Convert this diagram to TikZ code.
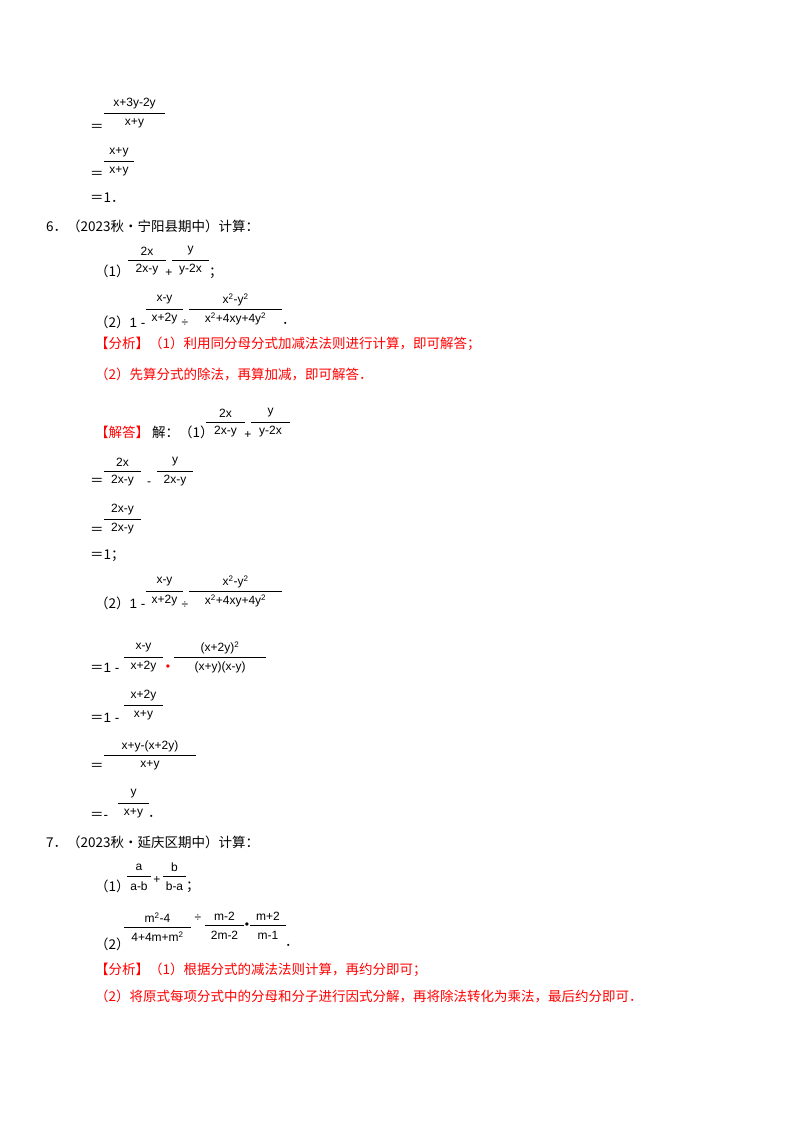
\documentclass[tikz,border=0pt]{standalone}
\usepackage{fontspec}
\setmainfont{Liberation Serif}
\newfontfamily\cjk{Noto Sans CJK SC}
\newfontfamily\fmf{Liberation Sans}
\newcommand\fr[5]{\draw[fl] (#1,#3)--(#2,#3);
 \node[fm] at ({(#1+#2)/2},#3-9) {#4};
 \node[fm] at ({(#1+#2)/2},#3+10) {#5};}
\tikzset{fm/.style={font=\fmf\fontsize{12}{12}\selectfont,inner sep=0pt},
 fl/.style={line width=0.8pt},
 tx/.style={font=\cjk\fontsize{13.5}{14}\selectfont,anchor=west,inner sep=0pt},
 rd/.style={tx,text=red}}
\begin{document}
\begin{tikzpicture}[x=1pt,y=-1pt]
\useasboundingbox[fill=white] (0,0) rectangle (800,1132);
% top
\node[tx] at (90,128) {＝};
\fr{104}{165}{113}{x+3y-2y}{x+y}
\node[tx] at (90,175) {＝};
\fr{104}{134}{161}{x+y}{x+y}
\node[tx] at (90,198) {＝1．};
% 6
\node[tx] at (46,226) {6．（2023秋•宁阳县期中）计算：};
\node[tx] at (95,271) {（1）};
\fr{128}{166}{260}{2x}{2x-y}
\node[fm] at (169,273) {+};
\fr{172}{209}{260}{y}{y-2x}
\node[tx] at (209,273) {；};
\node[tx] at (95,322) {（2）\fmf 1 -};
\fr{146}{183}{309}{x-y}{x+2y}
\node[fm] at (185,323) {÷};
\fr{189}{282}{309}{x\textsuperscript{2}-y\textsuperscript{2}}{x\textsuperscript{2}+4xy+4y\textsuperscript{2}}
\node[tx] at (282,323) {．};
\node[rd] at (95,344) {【分析】（1）利用同分母分式加减法法则进行计算，即可解答；};
\node[rd] at (95,374) {（2）先算分式的除法，再算加减，即可解答．};
\node[rd] at (95,432) {【解答】};
\node[tx] at (152,432) {解：（1）};
\fr{206}{245}{422}{2x}{2x-y}
\node[fm] at (248,435) {+};
\fr{251}{290}{422}{y}{y-2x}
\node[tx] at (90,482) {＝};
\fr{104}{141}{471}{2x}{2x-y}
\node[fm] at (149,484) {-};
\fr{157}{193}{471}{y}{2x-y}
\node[tx] at (90,531) {＝};
\fr{104}{141}{519}{2x-y}{2x-y}
\node[tx] at (90,556) {＝1；};
\node[tx] at (95,603) {（2）\fmf 1 -};
\fr{146}{183}{591}{x-y}{x+2y}
\node[fm] at (185,605) {÷};
\fr{189}{282}{591}{x\textsuperscript{2}-y\textsuperscript{2}}{x\textsuperscript{2}+4xy+4y\textsuperscript{2}}
\node[tx] at (90,668) {＝\fmf 1 -};
\fr{124}{163}{657}{x-y}{x+2y}
\node[fm,text=red] at (168,668) {•};
\fr{174}{266}{657}{(x+2y)\textsuperscript{2}}{(x+y)(x-y)}
\node[tx] at (90,718) {＝\fmf 1 -};
\fr{124}{163}{705}{x+2y}{x+y}
\node[tx] at (90,767) {＝};
\fr{104}{196}{755}{x+y-(x+2y)}{x+y}
\node[tx] at (90,816) {＝\fmf -};
\fr{118}{149}{803}{y}{x+y}
\node[tx] at (148,816) {．};
% 7
\node[tx] at (46,842) {7．（2023秋•延庆区期中）计算：};
\node[tx] at (95,886) {（1）};
\fr{127}{151}{876}{a}{a-b}
\node[fm] at (157,880) {+};
\fr{163}{186}{876}{b}{b-a}
\node[tx] at (186,887) {；};
\node[tx] at (95,944) {（2）};
\fr{124}{191}{927}{m\textsuperscript{2}-4}{4+4m+m\textsuperscript{2}}
\node[fm] at (198,918) {÷};
\fr{205}{244}{925}{m-2}{2m-2}
\node[fm] at (247,926) {•};
\fr{250}{286}{925}{m+2}{m-1}
\node[tx] at (285,945) {．};
\node[rd] at (95,970) {【分析】（1）根据分式的减法法则计算，再约分即可；};
\node[rd] at (95,996) {（2）将原式每项分式中的分母和分子进行因式分解，再将除法转化为乘法，最后约分即可．};
\end{tikzpicture}
\end{document}
